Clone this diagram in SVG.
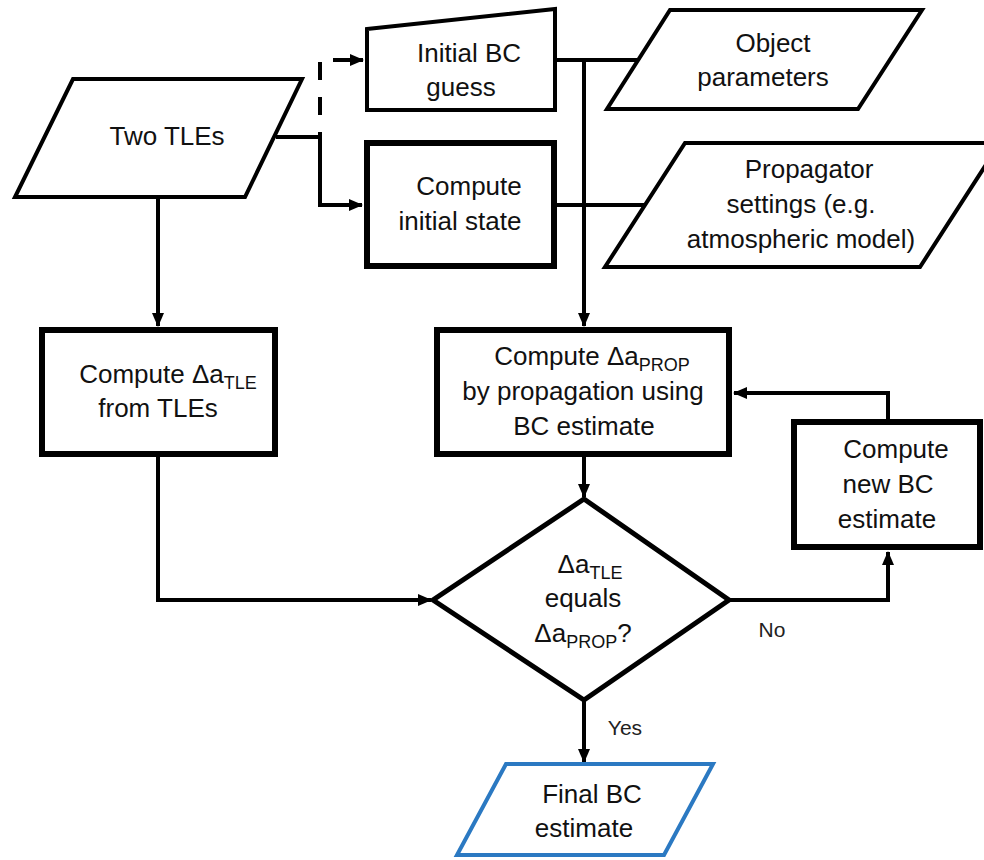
<svg xmlns="http://www.w3.org/2000/svg" width="984" height="860" viewBox="0 0 984 860">
<defs>
<marker id="arr" markerUnits="userSpaceOnUse" markerWidth="14" markerHeight="12" refX="13" refY="6" orient="auto"><path d="M0,0 L14,6 L0,12 z" fill="#000"/></marker>
</defs>
<style>
.n{fill:#fff;stroke:#000;stroke-width:4;stroke-linejoin:miter}
.t{stroke-width:6}
.c{fill:none;stroke:#000;stroke-width:4}
text{font-family:"Liberation Sans",Arial,sans-serif;font-size:26px;fill:#111;text-anchor:middle}
.s{font-size:21px;fill:#222}
.sub{font-size:18px}
</style>
<rect width="984" height="860" fill="#fff"/>
<g id="connectors">
<path class="c" d="M276,137 H320 V205 H362" marker-end="url(#arr)"/>
<path class="c" d="M320,137 V60 H363" stroke-dasharray="5 17 18 17 18 15 40" marker-end="url(#arr)"/>
<path class="c" d="M158,197 V326" marker-end="url(#arr)"/>
<path class="c" d="M158,457 V600 H431" marker-end="url(#arr)"/>
<path class="c" d="M555,60 H638"/>
<path class="c" d="M584,60 V326" marker-end="url(#arr)"/>
<path class="c" d="M557,205 H645"/>
<path class="c" d="M584,457 V497" marker-end="url(#arr)"/>
<path class="c" d="M729,600 H888 V552" marker-end="url(#arr)"/>
<path class="c" d="M888,419 V393 H734" marker-end="url(#arr)"/>
<path class="c" d="M584,700 V762" marker-end="url(#arr)"/>
<text class="s" x="772" y="637">No</text>
<text class="s" x="625" y="735">Yes</text>
</g>
<g id="two-tles">
<polygon class="n" points="73,79 302,79 245,197 15,197"/>
<text x="167" y="145">Two TLEs</text>
</g>
<g id="initial-bc-guess">
<polygon class="n" points="367,29 555,9 555,110 367,110"/>
<text x="469" y="62">Initial BC</text>
<text x="461" y="96">guess</text>
</g>
<g id="compute-initial-state">
<rect class="n t" x="367" y="143" width="187" height="123"/>
<text x="469" y="195">Compute</text>
<text x="460" y="230">initial state</text>
</g>
<g id="object-parameters">
<polygon class="n" points="670,10 922,10 858,109 607,109"/>
<text x="773" y="52">Object</text>
<text x="763" y="86">parameters</text>
</g>
<g id="propagator-settings">
<polygon class="n" points="685,143 1000,143 920,267 605,267"/>
<text x="809" y="178">Propagator</text>
<text x="801" y="213">settings (e.g.</text>
<text x="801" y="248">atmospheric model)</text>
</g>
<g id="compute-da-tle">
<rect class="n t" x="42" y="330" width="233" height="124"/>
<text x="168" y="383">Compute Δa<tspan class="sub" dy="6">TLE</tspan></text>
<text x="158" y="417">from TLEs</text>
</g>
<g id="compute-da-prop">
<rect class="n t" x="437" y="330" width="292" height="124"/>
<text x="592" y="365">Compute Δa<tspan class="sub" dy="6">PROP</tspan></text>
<text x="583" y="400">by propagation using</text>
<text x="584" y="435">BC estimate</text>
</g>
<g id="compute-new-bc">
<rect class="n t" x="794" y="422" width="186" height="125"/>
<text x="896" y="458">Compute</text>
<text x="888" y="493">new BC</text>
<text x="887" y="528">estimate</text>
</g>
<g id="decision">
<polygon class="n" points="584,499 729,600 584,700 433,600" style="stroke-width:5"/>
<text x="590" y="573">Δa<tspan class="sub" dy="6">TLE</tspan></text>
<text x="583" y="607">equals</text>
<text x="583" y="642">Δa<tspan class="sub" dy="6">PROP</tspan><tspan dy="-6">?</tspan></text>
</g>
<g id="final-bc">
<polygon class="n" points="506,764 713,764 664,855 457,855" style="stroke:#2b79c2"/>
<text x="592" y="803">Final BC</text>
<text x="584" y="837">estimate</text>
</g>
</svg>
